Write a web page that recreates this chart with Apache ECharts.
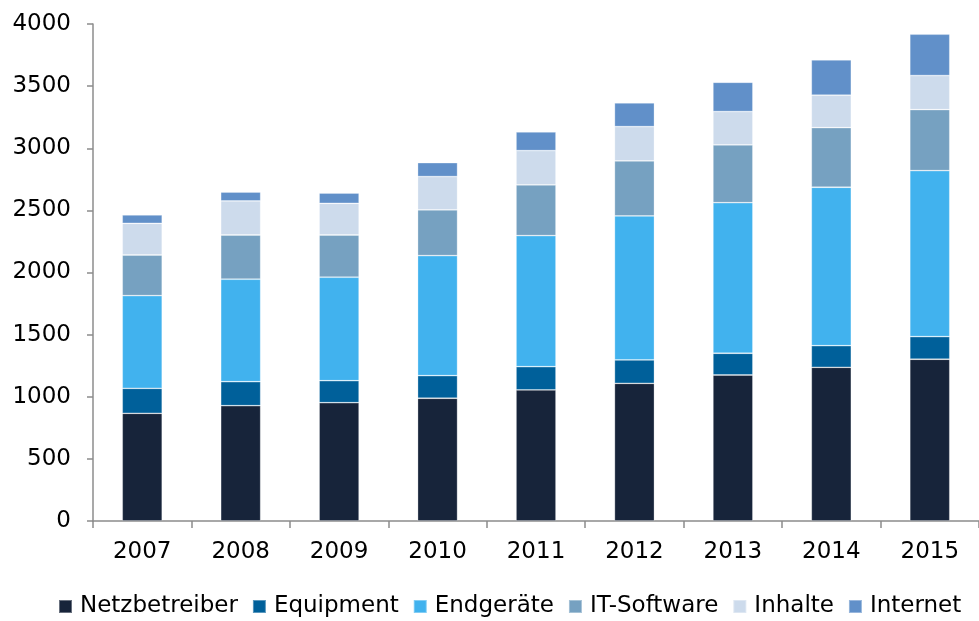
<!DOCTYPE html>
<html>
<head>
<meta charset="utf-8">
<script src="https://cdn.jsdelivr.net/npm/echarts@6/dist/echarts.min.js"></script>
<style>html,body{margin:0;padding:0;background:#fff;}#c{width:979px;height:621px;}</style>
</head>
<body>
<div id="c"></div>
<script>
const years = ['2007','2008','2009','2010','2011','2012','2013','2014','2015'];
const netzbetreiber = [867, 928, 952, 988, 1055, 1108, 1175, 1237, 1302];
const equipment     = [201, 193, 177, 182, 187, 188, 175, 174, 182];
const endgeraete    = [746, 825, 833, 966, 1055, 1159, 1212, 1275, 1336];
const itSoftware    = [327, 356, 340, 368, 408, 443, 465, 480, 491];
const inhalte       = [255, 274, 255, 268, 276, 276, 268, 261, 274];
const internet      = [67, 72, 83, 112, 150, 191, 236, 284, 333];
const seriesNames = ['Netzbetreiber','Equipment','Endgeräte','IT-Software','Inhalte','Internet'];
const seriesData = [netzbetreiber, equipment, endgeraete, itSoftware, inhalte, internet];
const colors = ['#17243a','#00609a','#41b2ee','#76a1c1','#cddbec','#6190c9'];

const font = 'DejaVu Sans';
const chart = echarts.init(document.getElementById('c'), null, {renderer:'canvas'});
chart.setOption({
  animation: false,
  color: colors,
  grid: {left: 93, top: 24, width: 891, height: 497, containLabel: false},
  legend: {
    data: seriesNames,
    left: 53, top: 590,
    itemWidth: 13, itemHeight: 13, itemGap: 14,
    icon: 'rect',
    textStyle: {fontFamily: font, fontSize: 23, color: '#000', padding: [0,0,0,3]}
  },
  xAxis: {
    type: 'category', data: years,
    axisLine: {lineStyle: {color: '#8c8c8c', width: 1.5}},
    axisTick: {show: true, length: 7, lineStyle: {color: '#8c8c8c', width: 1.5}},
    axisLabel: {fontFamily: font, fontSize: 23, color: '#000', margin: 20}
  },
  yAxis: {
    type: 'value', min: 0, max: 4000, interval: 500,
    splitLine: {show: false},
    axisLine: {show: true, lineStyle: {color: '#8c8c8c', width: 1.5}},
    axisTick: {show: true, length: 6, lineStyle: {color: '#8c8c8c', width: 1.5}},
    axisLabel: {fontFamily: font, fontSize: 23, color: '#000', margin: 22,
      formatter: v => String(v)}
  },
  series: seriesNames.map((n, i) => ({
    name: n, type: 'bar', stack: 'total', barWidth: 40,
    data: seriesData[i],
    itemStyle: {color: colors[i], borderColor: 'rgba(255,255,255,0.35)', borderWidth: 0.8}
  }))
});
</script>
</body>
</html>
